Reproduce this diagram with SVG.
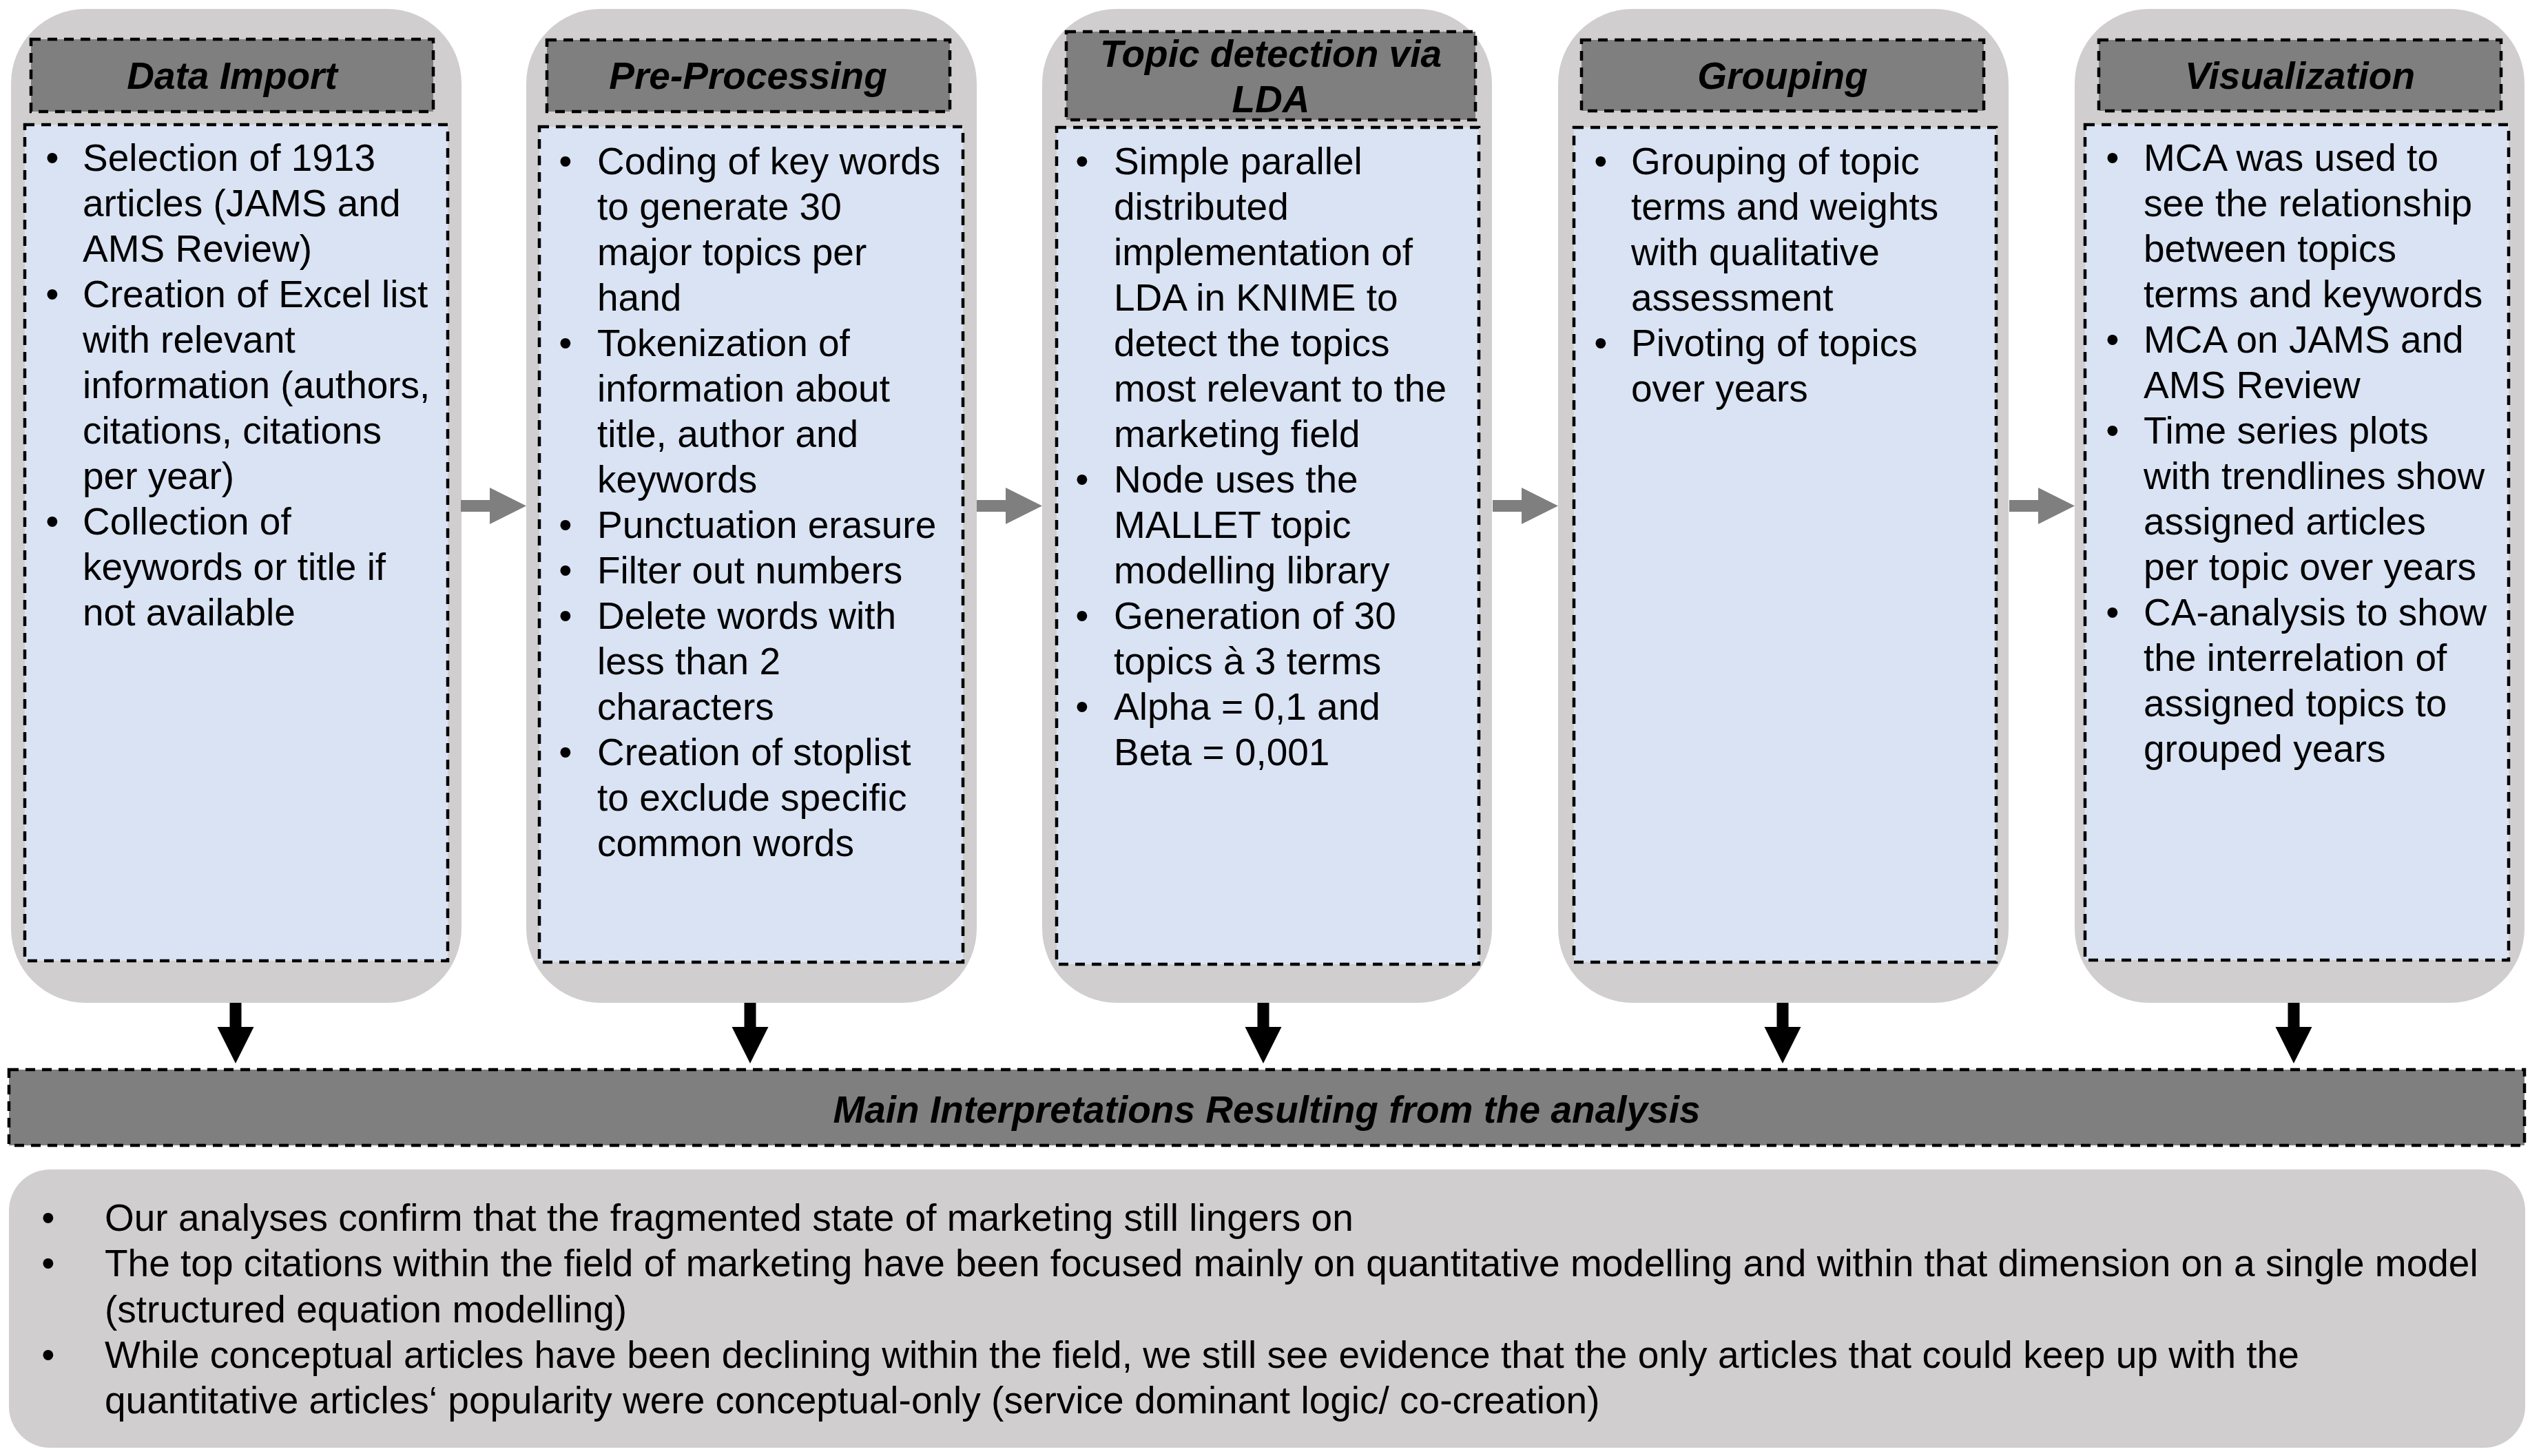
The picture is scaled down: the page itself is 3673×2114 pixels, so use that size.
<svg xmlns="http://www.w3.org/2000/svg" xmlns:xlink="http://www.w3.org/1999/xlink" width="3673" height="2114" viewBox="0 0 3673 2114">
  <style>
    .stage { fill: #D0CECE; }
    .head { fill: #7F7F7F; stroke: #000; stroke-width: 4.5; stroke-dasharray: 14 10; }
    .body { fill: #DAE3F3; stroke: #000; stroke-width: 4.5; stroke-dasharray: 14 10; }
    .title { font-family: "Liberation Sans", Arial, sans-serif; font-size: 55px; font-weight: bold; font-style: italic; fill: #000; text-anchor: middle; }
    .txt { font-family: "Liberation Sans", Arial, sans-serif; font-size: 55px; fill: #000; }
    .bul { font-family: "Liberation Sans", Arial, sans-serif; font-size: 55px; fill: #000; text-anchor: middle; }
    .flow { fill: #7F7F7F; }
    .down { fill: #000; }
  </style>
  <defs>
    <polygon id="harrow" points="0,-8.5 42,-8.5 42,-26.5 95,0 42,26.5 42,8.5 0,8.5"/>
    <polygon id="varrow" points="-8.5,0 8.5,0 8.5,35 26.5,35 0,88 -26.5,35 -8.5,35"/>
  </defs>

  <rect width="3673" height="2114" fill="#FFFFFF"/>

  <!-- Stage 1: Data Import -->
  <g id="data-import">
    <rect class="stage" x="16" y="13" width="654" height="1443" rx="108" ry="108"/>
    <rect class="head" x="45" y="57" width="584" height="105"/>
    <text class="title" x="337" y="129">Data Import</text>
    <rect class="body" x="36" y="181" width="614" height="1214"/>
    <text class="bul"><tspan x="76" y="248">•</tspan><tspan x="76" y="446">•</tspan><tspan x="76" y="776">•</tspan></text>
    <text class="txt">
      <tspan x="120" y="248">Selection of 1913</tspan>
      <tspan x="120" y="314">articles (JAMS and</tspan>
      <tspan x="120" y="380">AMS Review)</tspan>
      <tspan x="120" y="446">Creation of Excel list</tspan>
      <tspan x="120" y="512">with relevant</tspan>
      <tspan x="120" y="578">information (authors,</tspan>
      <tspan x="120" y="644">citations, citations</tspan>
      <tspan x="120" y="710">per year)</tspan>
      <tspan x="120" y="776">Collection of</tspan>
      <tspan x="120" y="842">keywords or title if</tspan>
      <tspan x="120" y="908">not available</tspan>
    </text>
  </g>

  <!-- Stage 2: Pre-Processing -->
  <g id="pre-processing">
    <rect class="stage" x="764" y="13" width="654" height="1443" rx="108" ry="108"/>
    <rect class="head" x="794" y="58" width="585" height="104"/>
    <text class="title" x="1086" y="129">Pre-Processing</text>
    <rect class="body" x="783" y="184" width="615" height="1213"/>
    <text class="bul"><tspan x="821" y="253">•</tspan><tspan x="821" y="517">•</tspan><tspan x="821" y="781">•</tspan><tspan x="821" y="847">•</tspan><tspan x="821" y="913">•</tspan><tspan x="821" y="1111">•</tspan></text>
    <text class="txt">
      <tspan x="867" y="253">Coding of key words</tspan>
      <tspan x="867" y="319">to generate 30</tspan>
      <tspan x="867" y="385">major topics per</tspan>
      <tspan x="867" y="451">hand</tspan>
      <tspan x="867" y="517">Tokenization of</tspan>
      <tspan x="867" y="583">information about</tspan>
      <tspan x="867" y="649">title, author and</tspan>
      <tspan x="867" y="715">keywords</tspan>
      <tspan x="867" y="781">Punctuation erasure</tspan>
      <tspan x="867" y="847">Filter out numbers</tspan>
      <tspan x="867" y="913">Delete words with</tspan>
      <tspan x="867" y="979">less than 2</tspan>
      <tspan x="867" y="1045">characters</tspan>
      <tspan x="867" y="1111">Creation of stoplist</tspan>
      <tspan x="867" y="1177">to exclude specific</tspan>
      <tspan x="867" y="1243">common words</tspan>
    </text>
  </g>

  <!-- Stage 3: Topic detection via LDA -->
  <g id="topic-detection">
    <rect class="stage" x="1513" y="13" width="653" height="1443" rx="108" ry="108"/>
    <rect class="head" x="1548" y="46" width="594" height="128"/>
    <text class="title"><tspan x="1845" y="97">Topic detection via</tspan><tspan x="1845" y="163">LDA</tspan></text>
    <rect class="body" x="1534" y="185" width="613" height="1215"/>
    <text class="bul"><tspan x="1571" y="253">•</tspan><tspan x="1571" y="715">•</tspan><tspan x="1571" y="913">•</tspan><tspan x="1571" y="1045">•</tspan></text>
    <text class="txt">
      <tspan x="1617" y="253">Simple parallel</tspan>
      <tspan x="1617" y="319">distributed</tspan>
      <tspan x="1617" y="385">implementation of</tspan>
      <tspan x="1617" y="451">LDA in KNIME to</tspan>
      <tspan x="1617" y="517">detect the topics</tspan>
      <tspan x="1617" y="583">most relevant to the</tspan>
      <tspan x="1617" y="649">marketing field</tspan>
      <tspan x="1617" y="715">Node uses the</tspan>
      <tspan x="1617" y="781">MALLET topic</tspan>
      <tspan x="1617" y="847">modelling library</tspan>
      <tspan x="1617" y="913">Generation of 30</tspan>
      <tspan x="1617" y="979">topics à 3 terms</tspan>
      <tspan x="1617" y="1045">Alpha = 0,1 and</tspan>
      <tspan x="1617" y="1111">Beta = 0,001</tspan>
    </text>
  </g>

  <!-- Stage 4: Grouping -->
  <g id="grouping">
    <rect class="stage" x="2262" y="13" width="654" height="1443" rx="108" ry="108"/>
    <rect class="head" x="2296" y="58" width="584" height="103"/>
    <text class="title" x="2588" y="129">Grouping</text>
    <rect class="body" x="2285" y="185" width="613" height="1212"/>
    <text class="bul"><tspan x="2324" y="253">•</tspan><tspan x="2324" y="517">•</tspan></text>
    <text class="txt">
      <tspan x="2368" y="253">Grouping of topic</tspan>
      <tspan x="2368" y="319">terms and weights</tspan>
      <tspan x="2368" y="385">with qualitative</tspan>
      <tspan x="2368" y="451">assessment</tspan>
      <tspan x="2368" y="517">Pivoting of topics</tspan>
      <tspan x="2368" y="583">over years</tspan>
    </text>
  </g>

  <!-- Stage 5: Visualization -->
  <g id="visualization">
    <rect class="stage" x="3012" y="13" width="653" height="1443" rx="108" ry="108"/>
    <rect class="head" x="3047" y="58" width="584" height="103"/>
    <text class="title" x="3339" y="129">Visualization</text>
    <rect class="body" x="3027" y="181" width="615" height="1213"/>
    <text class="bul"><tspan x="3067" y="248">•</tspan><tspan x="3067" y="512">•</tspan><tspan x="3067" y="644">•</tspan><tspan x="3067" y="908">•</tspan></text>
    <text class="txt">
      <tspan x="3112" y="248">MCA was used to</tspan>
      <tspan x="3112" y="314">see the relationship</tspan>
      <tspan x="3112" y="380">between topics</tspan>
      <tspan x="3112" y="446">terms and keywords</tspan>
      <tspan x="3112" y="512">MCA on JAMS and</tspan>
      <tspan x="3112" y="578">AMS Review</tspan>
      <tspan x="3112" y="644">Time series plots</tspan>
      <tspan x="3112" y="710">with trendlines show</tspan>
      <tspan x="3112" y="776">assigned articles</tspan>
      <tspan x="3112" y="842">per topic over years</tspan>
      <tspan x="3112" y="908">CA-analysis to show</tspan>
      <tspan x="3112" y="974">the interrelation of</tspan>
      <tspan x="3112" y="1040">assigned topics to</tspan>
      <tspan x="3112" y="1106">grouped years</tspan>
    </text>
  </g>

  <!-- Summary banner -->
  <g id="main-interpretations">
    <rect class="head" x="13" y="1553" width="3652" height="110"/>
    <text class="title" x="1839" y="1630">Main Interpretations Resulting from the analysis</text>
  </g>

  <!-- Findings -->
  <g id="findings">
    <rect class="stage" x="13" y="1698" width="3653" height="404" rx="60" ry="60"/>
    <text class="bul"><tspan x="70" y="1787">•</tspan><tspan x="70" y="1853">•</tspan><tspan x="70" y="1986">•</tspan></text>
    <text class="txt">
      <tspan x="152" y="1787">Our analyses confirm that the fragmented state of marketing still lingers on</tspan>
      <tspan x="152" y="1853">The top citations within the field of marketing have been focused mainly on quantitative modelling and within that dimension on a single model</tspan>
      <tspan x="152" y="1920">(structured equation modelling)</tspan>
      <tspan x="152" y="1986">While conceptual articles have been declining within the field, we still see evidence that the only articles that could keep up with the</tspan>
      <tspan x="152" y="2052">quantitative articles‘ popularity were conceptual-only (service dominant logic/ co-creation)</tspan>
    </text>
  </g>

  <!-- Connectors -->
  <g id="connectors">
    <use xlink:href="#harrow" class="flow" transform="translate(669,734.5)"/>
    <use xlink:href="#harrow" class="flow" transform="translate(1418,734.5)"/>
    <use xlink:href="#harrow" class="flow" transform="translate(2167,734.5)"/>
    <use xlink:href="#harrow" class="flow" transform="translate(2917,734.5)"/>
    <use xlink:href="#varrow" class="down" transform="translate(342,1456)"/>
    <use xlink:href="#varrow" class="down" transform="translate(1089,1456)"/>
    <use xlink:href="#varrow" class="down" transform="translate(1834,1456)"/>
    <use xlink:href="#varrow" class="down" transform="translate(2588,1456)"/>
    <use xlink:href="#varrow" class="down" transform="translate(3330,1456)"/>
  </g>
</svg>
